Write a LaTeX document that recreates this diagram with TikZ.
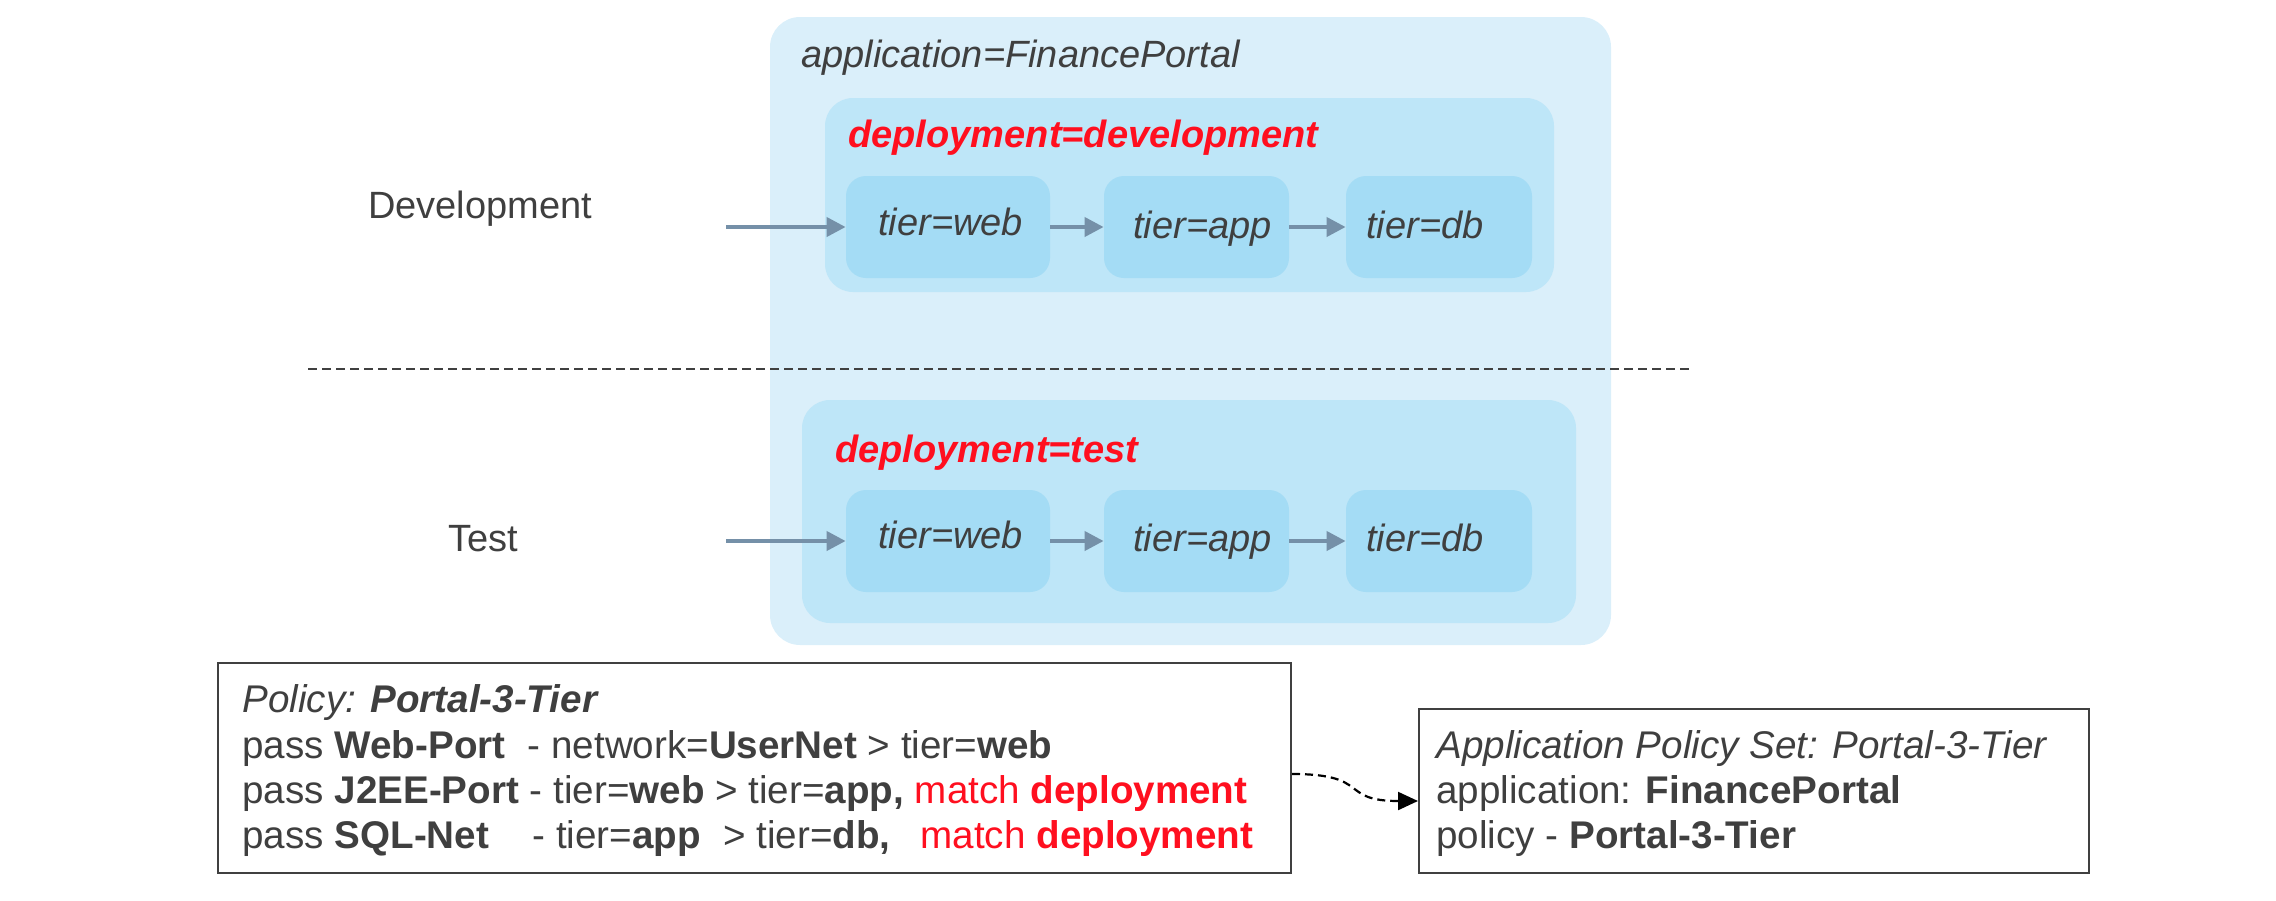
\documentclass[tikz,border=0pt]{standalone}
\usepackage{fontspec}
\setmainfont{Liberation Sans}
\usetikzlibrary{arrows.meta,fit}
\definecolor{appbg}{HTML}{DAEFFA}
\definecolor{depbg}{HTML}{BEE6F8}
\definecolor{tierbg}{HTML}{A4DCF5}
\definecolor{flowc}{HTML}{7590A8}
\definecolor{txtc}{HTML}{3F3F3F}
\definecolor{redc}{HTML}{FF0F1F}
\definecolor{linec}{HTML}{404040}
\begin{document}
\begin{tikzpicture}[x=0.5pt,y=-0.5pt,
  txt/.style={font=\fontsize{19pt}{23pt}\selectfont, text=txtc, inner sep=0pt},
  poltxt/.style={font=\fontsize{19.3pt}{23pt}\selectfont, text=txtc, inner sep=0pt, anchor=base west},
  redtxt/.style={font=\fontsize{19pt}{23pt}\selectfont\bfseries\itshape, text=redc, inner sep=0pt},
  appbox/.style={fill=appbg, rounded corners=15pt, inner sep=0pt},
  depbox/.style={fill=depbg, rounded corners=14pt, inner sep=0pt},
  tierbox/.style={fill=tierbg, rounded corners=10pt, inner sep=0pt},
  flow/.style={draw=flowc, line width=2pt, -{Triangle[length=9.5pt,width=9.5pt]}},
  polbox/.style={draw=linec, line width=1pt, fill=white, inner sep=0pt},
  sepline/.style={draw=linec, line width=0.75pt, dash pattern=on 4.5pt off 2.5pt},
  link/.style={draw=black, line width=1.1pt, dash pattern=on 4pt off 2.5pt, -{Triangle[length=10pt,width=9pt]}}
]
\useasboundingbox (0,0) rectangle (2276,900);

% application box
\node[appbox, fit={(770,17) (1611,645)}] (app) {};
\node[txt, anchor=base west, font=\fontsize{19pt}{23pt}\selectfont\itshape] (apptxt) at (801,67) {application=FinancePortal};

% development deployment
\node[depbox, fit={(825,98) (1554,292)}] (dep1) {};
\node[redtxt, anchor=base west] (dep1txt) at (848,147) {deployment=development};
\node[tierbox, fit={(846,176) (1050,278)}] (web1) {};
\node[tierbox, fit={(1104,176) (1289,278)}] (app1) {};
\node[tierbox, fit={(1346,176) (1532,278)}] (db1) {};
\node[txt, anchor=base west, font=\fontsize{19pt}{23pt}\selectfont\itshape] (web1t) at (878,235) {tier=web};
\node[txt, anchor=base west, font=\fontsize{19pt}{23pt}\selectfont\itshape] (app1t) at (1133,238) {tier=app};
\node[txt, anchor=base west, font=\fontsize{19pt}{23pt}\selectfont\itshape] (db1t) at (1366,238) {tier=db};

% test deployment
\node[depbox, fit={(802,400) (1576,623)}] (dep2) {};
\node[redtxt, anchor=base west] (dep2txt) at (835,462) {deployment=test};
\node[tierbox, fit={(846,490) (1050,592)}] (web2) {};
\node[tierbox, fit={(1104,490) (1289,592)}] (app2) {};
\node[tierbox, fit={(1346,490) (1532,592)}] (db2) {};
\node[txt, anchor=base west, font=\fontsize{19pt}{23pt}\selectfont\itshape] (web2t) at (878,548) {tier=web};
\node[txt, anchor=base west, font=\fontsize{19pt}{23pt}\selectfont\itshape] (app2t) at (1133,551) {tier=app};
\node[txt, anchor=base west, font=\fontsize{19pt}{23pt}\selectfont\itshape] (db2t) at (1366,551) {tier=db};

% separator
\draw[sepline] (308,369) -- (1691,369);

% stage labels
\node[txt, anchor=base] (devlbl) at (480,218) {Development};
\node[txt, anchor=base] (testlbl) at (483,551) {Test};

% flow arrows
\coordinate (devin) at (726,227);
\coordinate (testin) at (726,541);
\draw[flow] (devin) -- (web1.west);
\draw[flow] (web1.east) -- (app1.west);
\draw[flow] (app1.east) -- (db1.west);
\draw[flow] (testin) -- (web2.west);
\draw[flow] (web2.east) -- (app2.west);
\draw[flow] (app2.east) -- (db2.west);

% policy box
\node[polbox, fit={(218,663) (1291,873)}] (pol) {};
\node[poltxt] (pol1) at (242,712) {\itshape Policy: \textbf{Portal-3-Tier}};
\node[poltxt] (pol2) at (242,758) {pass \textbf{Web-Port}\hspace{0.3em} - network=\textbf{UserNet} > tier=\textbf{web}};
\node[poltxt] (pol3) at (242,803) {pass \textbf{J2EE-Port} - tier=\textbf{web} > tier=\textbf{app,} \textcolor{redc}{match \textbf{deployment}}};
\node[poltxt] (pol4) at (242,848) {pass \textbf{SQL-Net}\hspace{0.85em} - tier=\textbf{app}\hspace{0.3em} > tier=\textbf{db,}\hspace{0.5em} \textcolor{redc}{match \textbf{deployment}}};

% application policy set box
\node[polbox, fit={(1419,709) (2089,873)}] (aps) {};
\node[poltxt] (aps1) at (1436,758) {\itshape Application Policy Set: Portal-3-Tier};
\node[poltxt] (aps2) at (1436,803) {application: \textbf{FinancePortal}};
\node[poltxt] (aps3) at (1436,848) {policy - \textbf{Portal-3-Tier}};

% link
\draw[link] ([yshift=-3pt]pol.east) .. controls +(80,0) and +(-80,0) .. ([yshift=-5pt]aps.west);
\end{tikzpicture}
\end{document}
